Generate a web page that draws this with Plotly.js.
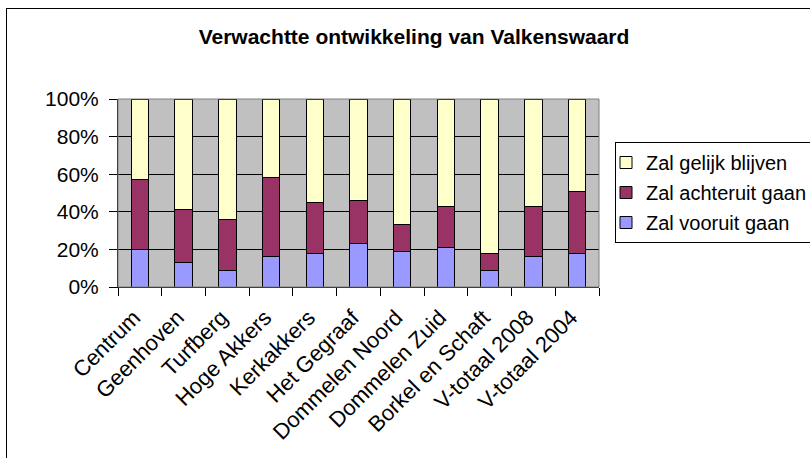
<!DOCTYPE html>
<html>
<head>
<meta charset="utf-8">
<script src="https://cdn.plot.ly/plotly-3.0.1.min.js"></script>
<style>
  html, body { margin: 0; padding: 0; background: #ffffff; overflow: hidden; }
  #wrap { position: relative; width: 810px; height: 458px; }
  #chart { width: 810px; height: 458px; }
  #frame { position: absolute; left: 6px; top: 8px; width: 830px; height: 480px;
           border: 1px solid #000; pointer-events: none; }
</style>
</head>
<body>
<div id="wrap">
  <div id="chart"></div>
  <div id="frame"></div>
</div>
<script>
// Wijken / kernen
const categories = ['Centrum', 'Geenhoven', 'Turfberg', 'Hoge Akkers', 'Kerkakkers',
  'Het Gegraaf', 'Dommelen Noord', 'Dommelen Zuid', 'Borkel en Schaft',
  'V-totaal 2008', 'V-totaal 2004'];

// Percentages per antwoordcategorie
const vooruit   = [20, 13, 9, 16, 18, 23, 19, 21, 9, 16, 18];
const achteruit = [37, 28, 27, 42, 27, 23, 14, 22, 9, 27, 33];
const gelijk    = [43, 59, 64, 42, 55, 54, 67, 57, 82, 57, 49];

const seriesNames = ['Zal vooruit gaan', 'Zal achteruit gaan', 'Zal gelijk blijven'];
const seriesColors = ['#9999FF', '#993366', '#FFFFCC'];
// legend lists the top segment first
const legendRanks = [3, 2, 1];

const yTicks = [0, 20, 40, 60, 80, 100];
const yTickLabels = ['0%', '20%', '40%', '60%', '80%', '100%'];

const FONT = 'Arial, "Liberation Sans", sans-serif';

const traces = [vooruit, achteruit, gelijk].map((vals, i) => ({
  type: 'bar',
  name: seriesNames[i],
  x: categories,
  y: vals,
  width: 0.4,
  legendgroup: 'g' + i,
  legendrank: legendRanks[i],
  marker: { color: seriesColors[i], line: { color: '#000000', width: 1 } },
  hoverinfo: 'x+y+name'
}));

const layout = {
  width: 810,
  height: 458,
  barmode: 'stack',
  paper_bgcolor: '#ffffff',
  plot_bgcolor: '#C0C0C0',
  margin: { l: 118, r: 211, t: 99, b: 171, pad: 0, autoexpand: false },
  font: { family: FONT, size: 21, color: '#000000' },
  title: {
    text: 'Verwachtte ontwikkeling van Valkenswaard',
    font: { family: FONT, size: 21, weight: 'bold', color: '#000000' },
    x: 414 / 810, xanchor: 'center', xref: 'container',
    y: 1 - 37 / 458, yanchor: 'middle', yref: 'container'
  },
  xaxis: {
    type: 'category',
    tickangle: -45,
    tickson: 'boundaries',
    ticks: 'outside',
    ticklen: 8,
    tickcolor: '#000000',
    showline: true,
    linecolor: '#000000',
    linewidth: 1,
    showgrid: false,
    automargin: false,
    ticklabelshift: -6,
    ticklabelstandoff: 8,
    tickfont: { family: FONT, size: 22 },
    range: [-0.5, categories.length - 0.5]
  },
  yaxis: {
    range: [0, 100],
    tickvals: yTicks,
    ticktext: yTickLabels,
    ticks: 'outside',
    ticklen: 8,
    tickcolor: '#000000',
    showline: true,
    linecolor: '#000000',
    linewidth: 1,
    showgrid: true,
    gridcolor: '#000000',
    gridwidth: 1,
    zeroline: false,
    automargin: false,
    ticklabelstandoff: 6,
    tickfont: { family: FONT, size: 21 }
  },
  shapes: [{
    type: 'rect', xref: 'paper', yref: 'paper',
    x0: 0, x1: 1, y0: 0, y1: 1,
    line: { color: '#808080', width: 1 },
    layer: 'above'
  }],
  showlegend: true,
  legend: {
    x: (615 - 118) / 481,
    xanchor: 'left',
    y: (287 - 142) / 188,
    yanchor: 'top',
    traceorder: 'grouped',
    tracegroupgap: 1,
    indentation: -10,
    bgcolor: '#ffffff',
    bordercolor: '#000000',
    borderwidth: 1,
    font: { family: FONT, size: 20, color: '#000000' }
  }
};

Plotly.newPlot('chart', traces, layout, { displayModeBar: false, staticPlot: true });
</script>
</body>
</html>
